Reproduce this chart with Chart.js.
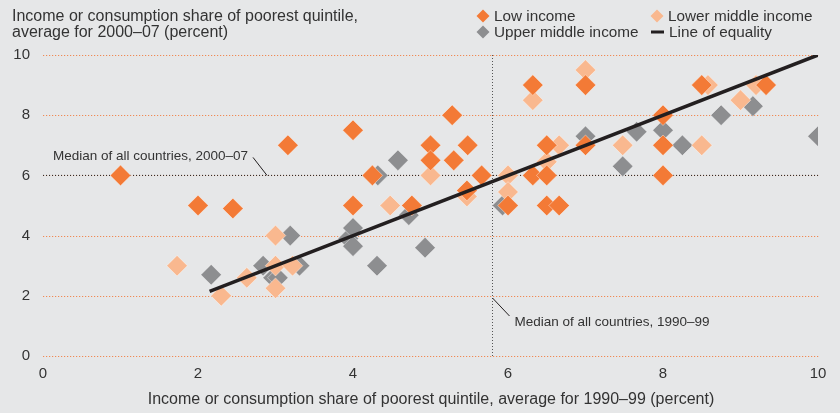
<!DOCTYPE html>
<html>
<head>
<meta charset="utf-8">
<script src="https://cdn.jsdelivr.net/npm/chart.js@4"></script>
<style>
  html, body { margin: 0; padding: 0; background: #E6E7E8; }
  #wrap { width: 840px; height: 413px; }
</style>
</head>
<body>
<div id="wrap"><canvas id="c" width="840" height="413"></canvas></div>
<script>
// ---- data ----
const lowX   = [1.0, 2.0, 2.45, 3.16, 4.0, 4.0, 4.25, 4.76, 5.0, 5.0, 5.28, 5.3, 5.48, 5.47, 5.66, 6.0, 6.32, 6.32, 6.5, 6.5, 6.5, 6.66, 7.0, 7.0, 8.0, 8.0, 8.0, 8.5, 9.33];
const lowY   = [6.0, 5.0, 4.9, 7.0, 7.5, 5.0, 6.0, 5.0, 7.0, 6.5, 8.0, 6.5, 7.0, 5.5, 6.0, 5.0, 9.0, 6.0, 7.0, 6.0, 5.0, 5.0, 9.0, 7.0, 8.0, 7.0, 6.0, 9.0, 9.0];
const lowerX = [1.73, 2.3, 2.63, 3.0, 3.0, 3.0, 3.22, 4.48, 5.0, 5.47, 6.0, 6.0, 6.32, 7.0, 6.66, 6.5, 7.48, 8.5, 8.58, 9.0, 9.2];
const lowerY = [3.0, 2.0, 2.6, 4.0, 3.0, 2.25, 3.0, 5.0, 6.0, 5.3, 6.0, 5.45, 8.5, 9.5, 7.0, 6.45, 7.0, 7.0, 9.0, 8.5, 9.0];
const upperX = [2.17, 2.84, 2.97, 3.03, 3.19, 3.31, 3.94, 4.0, 4.0, 4.31, 4.32, 4.58, 4.72, 4.93, 5.93, 7.0, 7.48, 7.66, 8.0, 8.25, 8.75, 9.16, 10.0];
const upperY = [2.7, 3.0, 2.6, 2.6, 4.0, 3.0, 3.9, 4.25, 3.65, 3.0, 6.0, 6.5, 4.68, 3.6, 5.0, 7.3, 6.3, 7.45, 7.5, 7.0, 8.0, 8.3, 7.3];
const equalityRange = [2.15, 10];
const median1990 = 5.8;   // x
const median2000 = 6.0;   // y
const axisMin = 0, axisMax = 10, tickStep = 2;
const seriesNames = ['Low income', 'Lower middle income', 'Upper middle income', 'Line of equality'];
const yTitle = ['Income or consumption share of poorest quintile,', 'average for 2000–07 (percent)'];
const xTitle = 'Income or consumption share of poorest quintile, average for 1990–99 (percent)';
const note2000 = 'Median of all countries, 2000–07';
const note1990 = 'Median of all countries, 1990–99';

// ---- styles ----
const C_LOW = '#F37A36', C_LOWER = '#F9B88F', C_UPPER = '#8D8E90', C_LINE = '#231F20';
const C_TEXT = '#333333', C_GRID = '#F08A55';
const FONT = '"Liberation Sans", Arial, sans-serif';

const pts = (xs, ys) => xs.map((x, i) => ({x, y: ys[i]}));
const diamond = (color) => ({
  type: 'scatter', pointStyle: 'rectRot', pointRadius: 10.3, pointHoverRadius: 10.3,
  backgroundColor: color, borderColor: 'rgba(255,255,255,0.5)', borderWidth: 0.8
});

const gridPlugin = {
  id: 'dotgrid',
  beforeDatasetsDraw(chart) {
    const ctx = chart.ctx, xs = chart.scales.x, ys = chart.scales.y;
    ctx.save();
    ctx.fillStyle = C_GRID;
    ys.ticks.forEach(t => {
      const y = Math.round(ys.getPixelForValue(t.value));
      for (let x = Math.round(xs.left); x <= xs.right; x += 3) ctx.fillRect(x, y, 1.2, 1);
    });
    ctx.restore();
  }
};

const textPlugin = {
  id: 'texts',
  afterDraw(chart) {
    const ctx = chart.ctx, xs = chart.scales.x, ys = chart.scales.y;
    ctx.save();
    ctx.fillStyle = C_TEXT;
    ctx.textBaseline = 'middle';
    // y title (top left)
    ctx.font = '16px ' + FONT;
    ctx.textAlign = 'left';
    ctx.fillText(yTitle[0], 12, 17);
    ctx.fillText(yTitle[1], 12, 33);
    // x title
    ctx.textAlign = 'center';
    ctx.fillText(xTitle, (xs.left + xs.right) / 2 + 0.5, 400);
    // legend
    ctx.font = '15.3px ' + FONT;
    const items = [
      {label: seriesNames[0], color: C_LOW, x: 483, y: 16},
      {label: seriesNames[1], color: C_LOWER, x: 657, y: 16},
      {label: seriesNames[2], color: C_UPPER, x: 483, y: 32},
    ];
    ctx.textAlign = 'left';
    items.forEach(it => {
      ctx.fillStyle = it.color;
      ctx.beginPath();
      ctx.moveTo(it.x, it.y - 6.5); ctx.lineTo(it.x + 6.5, it.y);
      ctx.lineTo(it.x, it.y + 6.5); ctx.lineTo(it.x - 6.5, it.y);
      ctx.closePath(); ctx.fill();
      ctx.fillStyle = C_TEXT;
      ctx.fillText(it.label, it.x + 11, it.y + 1);
    });
    ctx.strokeStyle = C_LINE; ctx.lineWidth = 3;
    ctx.beginPath(); ctx.moveTo(651, 32); ctx.lineTo(664, 32); ctx.stroke();
    ctx.fillStyle = C_TEXT;
    ctx.fillText(seriesNames[3], 669, 33);
    // annotations
    ctx.font = '13.5px ' + FONT;
    const my = ys.getPixelForValue(median2000);
    ctx.fillText(note2000, 53, my - 19);
    ctx.strokeStyle = C_LINE; ctx.lineWidth = 1;
    ctx.beginPath(); ctx.moveTo(253, my - 18); ctx.lineTo(267, my); ctx.stroke();
    const mx = xs.getPixelForValue(median1990);
    ctx.beginPath(); ctx.moveTo(mx, 298); ctx.lineTo(mx + 17, 316); ctx.stroke();
    ctx.fillText(note1990, mx + 22, 322);
    ctx.restore();
  }
};

const bgPlugin = {
  id: 'bg',
  beforeDraw(chart) {
    const ctx = chart.ctx;
    ctx.save(); ctx.fillStyle = '#E6E7E8';
    ctx.fillRect(0, 0, chart.width, chart.height); ctx.restore();
  }
};

new Chart(document.getElementById('c'), {
  type: 'scatter',
  data: {
    datasets: [
      { type: 'line', label: seriesNames[3],
        data: [{x: equalityRange[0], y: equalityRange[0]}, {x: equalityRange[1], y: equalityRange[1]}],
        borderColor: C_LINE, borderWidth: 3.5, pointRadius: 0, fill: false },
      Object.assign({label: seriesNames[0], data: pts(lowX, lowY)}, diamond(C_LOW)),
      Object.assign({label: seriesNames[1], data: pts(lowerX, lowerY)}, diamond(C_LOWER)),
      Object.assign({label: seriesNames[2], data: pts(upperX, upperY)}, diamond(C_UPPER)),
      { type: 'line', label: 'median y',
        data: [{x: axisMin, y: median2000}, {x: axisMax, y: median2000}],
        borderColor: '#222', borderWidth: 1, borderDash: [1, 2], pointRadius: 0 },
      { type: 'line', label: 'median x',
        data: [{x: median1990, y: axisMin}, {x: median1990, y: axisMax}],
        borderColor: '#555', borderWidth: 1, borderDash: [1, 2], pointRadius: 0 }
    ]
  },
  options: {
    responsive: false, animation: false, devicePixelRatio: 1,
    layout: { padding: { top: 55, right: 22, left: 0, bottom: 0 } },
    plugins: { legend: { display: false }, tooltip: { enabled: false } },
    scales: {
      x: {
        type: 'linear', min: axisMin, max: axisMax,
        ticks: { stepSize: tickStep, color: C_TEXT, font: { family: FONT, size: 15 }, padding: 9 },
        grid: { display: false, drawTicks: false },
        border: { display: false },
        afterFit(s) { s.height = 57; }
      },
      y: {
        type: 'linear', min: axisMin, max: axisMax,
        ticks: { stepSize: tickStep, color: C_TEXT, font: { family: FONT, size: 15 }, padding: 13 },
        grid: { display: false, drawTicks: false },
        border: { display: false },
        afterFit(s) { s.width = 43; }
      }
    }
  },
  plugins: [bgPlugin, gridPlugin, textPlugin]
});
</script>
</body>
</html>
